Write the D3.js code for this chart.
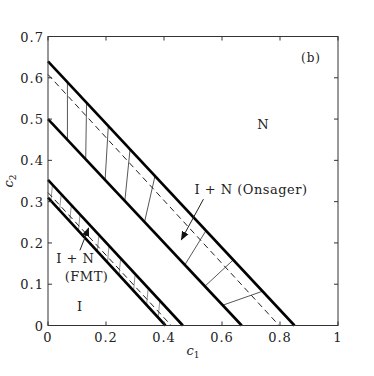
<!DOCTYPE html>
<html>
<head>
<meta charset="utf-8">
<script src="https://cdn.jsdelivr.net/npm/d3@7"></script>
<style>
  body { margin: 0; background: #fff; overflow: hidden; }
  svg { display: block; }
  text { font-family: "DejaVu Serif", "Liberation Serif", serif; fill: #222; }
</style>
</head>
<body>
<div class="chart"></div>
<script>
// phase boundaries: straight lines given by their two end points [c1, c2]
const onsagerN = [[0, 0.64], [0.85, 0]]
const onsagerI = [[0, 0.5], [0.668, 0]]
const onsagerDash = [[0, 0.608], [0.797, 0]]
const fmtN = [[0, 0.353], [0.465, 0]]
const fmtI = [[0, 0.31], [0.405, 0]]
const fmtDash = [[0, 0.322], [0.425, 0]]

// tie lines [N point, I point]
const onsagerTies = [
  [[0.067, 0.588], [0.067, 0.450]],
  [[0.133, 0.540], [0.130, 0.403]],
  [[0.208, 0.483], [0.197, 0.353]],
  [[0.283, 0.427], [0.265, 0.302]],
  [[0.369, 0.362], [0.333, 0.251]],
  [[0.545, 0.230], [0.472, 0.147]],
  [[0.639, 0.159], [0.541, 0.095]],
  [[0.740, 0.083], [0.602, 0.049]]
]
const fmtTies = [
  [[0.015, 0.338], [0.010, 0.302]],
  [[0.045, 0.315], [0.040, 0.279]],
  [[0.080, 0.288], [0.075, 0.253]],
  [[0.110, 0.266], [0.105, 0.230]],
  [[0.175, 0.216], [0.170, 0.180]],
  [[0.210, 0.190], [0.205, 0.153]],
  [[0.250, 0.159], [0.245, 0.123]],
  [[0.300, 0.121], [0.295, 0.084]],
  [[0.345, 0.087], [0.340, 0.050]],
  [[0.385, 0.057], [0.380, 0.019]]
]

const xTicks = [0, 0.2, 0.4, 0.6, 0.8, 1]
const yTicks = [0, 0.1, 0.2, 0.3, 0.4, 0.5, 0.6, 0.7]

// annotations [c1, c2]
const labels = [
  {text: 'N', at: [0.742, 0.476]},
  {text: 'I + N (Onsager)', at: [0.70, 0.318]},
  {text: 'I + N', at: [0.094, 0.152]},
  {text: '(FMT)', at: [0.133, 0.107]},
  {text: 'I', at: [0.11, 0.036]}
]
const arrows = [
  {from: [0.536, 0.306], to: [0.46, 0.208]},
  {from: [0.11, 0.182], to: [0.14, 0.236]}
]

const width = 374, height = 376
const margin = {top: 36.5, right: 36, bottom: 50.5, left: 48}
const innerWidth = width - margin.left - margin.right
const innerHeight = height - margin.top - margin.bottom

const svg = d3.select('.chart').append('svg').attr('width', width).attr('height', height)
const g = svg.append('g').attr('transform', `translate(${margin.left}, ${margin.top})`)

const x = d3.scaleLinear().domain([0, 1]).range([0, innerWidth])
const y = d3.scaleLinear().domain([0, 0.7]).range([innerHeight, 0])
const line = d3.line().x(d => x(d[0])).y(d => y(d[1]))

g.append('defs').append('marker')
  .attr('id', 'head').attr('viewBox', '0 0 10 10').attr('refX', 9).attr('refY', 5)
  .attr('markerWidth', 9).attr('markerHeight', 9).attr('orient', 'auto')
  .attr('markerUnits', 'userSpaceOnUse')
  .append('path').attr('d', 'M0,1 L10,5 L0,9 Z').attr('fill', '#111')

// tie lines
g.selectAll('.tie')
  .data(onsagerTies)
  .join('path')
  .attr('class', 'tie')
  .attr('d', line)
  .attr('fill', 'none')
  .attr('stroke', '#444')
  .attr('stroke-width', 0.9)
g.selectAll('.ftie')
  .data(fmtTies)
  .join('path')
  .attr('class', 'ftie')
  .attr('d', line)
  .attr('fill', 'none')
  .attr('stroke', '#666')
  .attr('stroke-width', 0.7)

// dashed lines
g.selectAll('.dash')
  .data([onsagerDash, fmtDash])
  .join('path')
  .attr('class', 'dash')
  .attr('d', line)
  .attr('fill', 'none')
  .attr('stroke', '#222')
  .attr('stroke-width', 1)
  .attr('stroke-dasharray', '6,4')

// thick boundaries
g.selectAll('.bound')
  .data([onsagerN, onsagerI, fmtN, fmtI])
  .join('path')
  .attr('class', 'bound')
  .attr('d', line)
  .attr('fill', 'none')
  .attr('stroke', '#000')
  .attr('stroke-width', 2.6)

// arrows
g.selectAll('.arrow')
  .data(arrows)
  .join('line')
  .attr('class', 'arrow')
  .attr('x1', d => x(d.from[0])).attr('y1', d => y(d.from[1]))
  .attr('x2', d => x(d.to[0])).attr('y2', d => y(d.to[1]))
  .attr('stroke', '#222')
  .attr('stroke-width', 1)
  .attr('marker-end', 'url(#head)')

// frame
g.append('rect')
  .attr('width', innerWidth).attr('height', innerHeight)
  .attr('fill', 'none').attr('stroke', '#333').attr('stroke-width', 1)

// inward ticks on all four sides
const tickLen = 4
g.selectAll('.xt')
  .data(xTicks.flatMap(t => [[t, innerHeight, -tickLen], [t, 0, tickLen]]))
  .join('line')
  .attr('x1', d => x(d[0])).attr('x2', d => x(d[0]))
  .attr('y1', d => d[1]).attr('y2', d => d[1] + d[2])
  .attr('stroke', '#333')
g.selectAll('.yt')
  .data(yTicks.flatMap(t => [[t, 0, tickLen], [t, innerWidth, -tickLen]]))
  .join('line')
  .attr('y1', d => y(d[0])).attr('y2', d => y(d[0]))
  .attr('x1', d => d[1]).attr('x2', d => d[1] + d[2])
  .attr('stroke', '#333')

g.selectAll('.xl')
  .data(xTicks)
  .join('text')
  .attr('x', d => x(d)).attr('y', innerHeight + 16)
  .attr('text-anchor', 'middle')
  .style('font-size', '13px').style('letter-spacing', '1px')
  .text(d => d === 0 || d === 1 ? d : d.toFixed(1))

g.selectAll('.yl')
  .data(yTicks)
  .join('text')
  .attr('x', -4).attr('y', d => y(d) + 5)
  .attr('text-anchor', 'end')
  .style('font-size', '13px').style('letter-spacing', '1px')
  .text(d => d === 0 ? d : d.toFixed(1))

// axis titles
g.append('text')
  .attr('x', innerWidth / 2).attr('y', innerHeight + 29)
  .attr('text-anchor', 'middle').style('font-size', '13px').style('font-style', 'italic')
  .html('c<tspan style="font-size:9px;font-style:normal" dy="3">1</tspan>')
g.append('text')
  .attr('transform', `translate(${-35}, ${y(0.35)}) rotate(-90)`)
  .attr('text-anchor', 'middle').style('font-size', '13px').style('font-style', 'italic')
  .html('c<tspan style="font-size:9px;font-style:normal" dy="3">2</tspan>')

g.append('text')
  .attr('x', innerWidth - 27).attr('y', 25)
  .attr('text-anchor', 'middle').style('font-size', '12px').style('letter-spacing', '1px')
  .text('(b)')

g.selectAll('.lab')
  .data(labels)
  .join('text')
  .attr('x', d => x(d.at[0])).attr('y', d => y(d.at[1]))
  .attr('text-anchor', 'middle')
  .style('font-size', '13px').style('letter-spacing', '0.5px')
  .text(d => d.text)
</script>
</body>
</html>
